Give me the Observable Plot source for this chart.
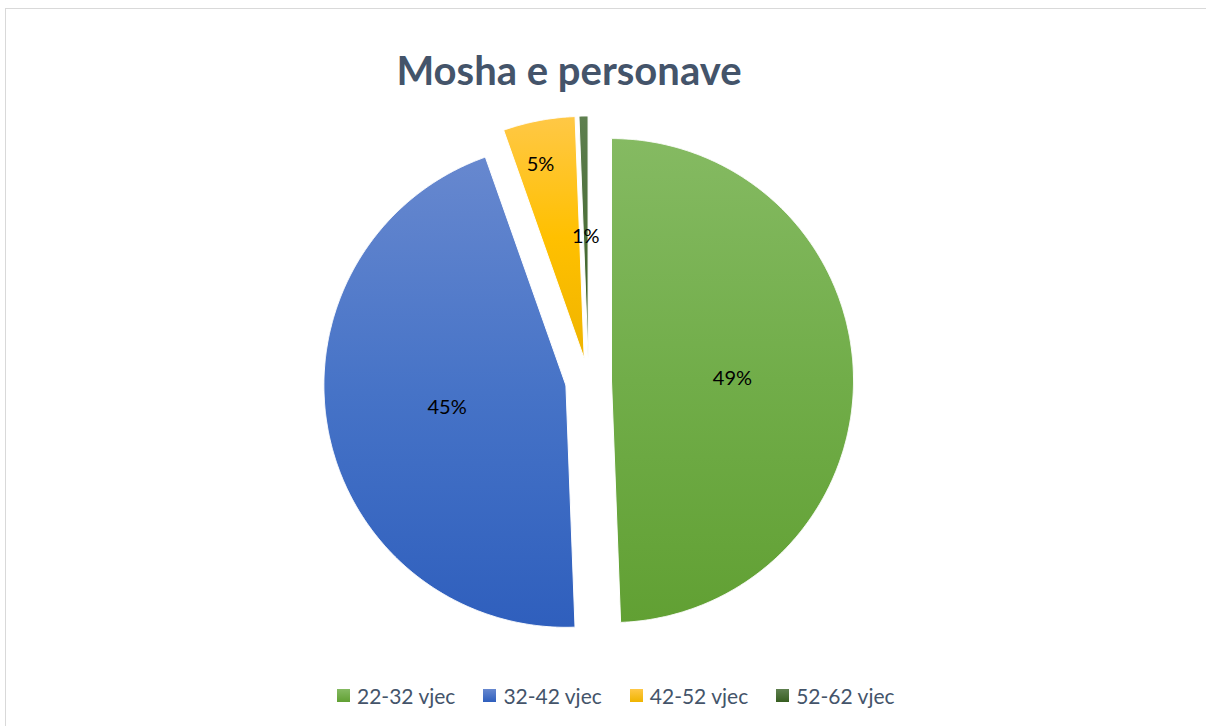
<!DOCTYPE html>
<html><head><meta charset="utf-8">
<script src="https://cdn.jsdelivr.net/npm/d3@7"></script>
<script src="https://cdn.jsdelivr.net/npm/@observablehq/plot@0.6"></script>
<style>
body{margin:0;background:#fff;font-family:Lato,sans-serif;width:1206px;height:726px;overflow:hidden;position:relative}
#frame{position:absolute;left:5px;top:8px;width:1400px;height:900px;border:1px solid #d9d9d9;pointer-events:none}
#title{width:1138px;height:110px;box-sizing:border-box;padding-top:46px;line-height:1.2;font-size:40px;font-weight:700;color:#44546a;text-align:center;margin:0;white-space:nowrap}
#chart svg{display:block}
#legend{display:flex;padding-left:337px;padding-top:23px;gap:28px;font-size:21px;color:#44546a;line-height:25px;white-space:nowrap}
.item{display:flex;align-items:center}
.sw{width:13px;height:13px;margin-right:7px}
</style></head><body>
<div id="frame"></div>
<div id="title">Mosha e personave</div>
<div id="chart"></div>
<div id="legend"></div>
<script>
// ---- data ----
const categories = ["22-32 vjec", "32-42 vjec", "42-52 vjec", "52-62 vjec"];
const values = [49.4, 45.2, 4.8, 0.6];
const gradientStops = [
  ["#85ba62", "#71ad49", "#61a033"],
  ["#6788cf", "#4673c7", "#2f5fbd"],
  ["#ffc846", "#ffc000", "#efb400"],
  ["#5f8050", "#4a6e38", "#375e20"]
];

// ---- layout ----
const W = 1206, H = 550, R = 242, CX = 588, CY = 270.5;
const EXPLODE = 23 / R;

const rows = categories.map((c, i) => ({category: c, value: values[i], i}));
const total = d3.sum(values);
const arcs = d3.pie().sort(null).value(d => d.value)(rows);

const polys = arcs.map(a => {
  const mid = (a.startAngle + a.endAngle) / 2;
  const ox = EXPLODE * Math.sin(mid), oy = EXPLODE * Math.cos(mid);
  const pts = [{x: ox, y: oy}];
  const n = Math.max(2, Math.ceil((a.endAngle - a.startAngle) / 0.004));
  for (let k = 0; k <= n; ++k) {
    const t = a.startAngle + (a.endAngle - a.startAngle) * k / n;
    pts.push({x: ox + Math.sin(t), y: oy + Math.cos(t)});
  }
  pts.push({x: ox, y: oy});
  return pts;
});

const labels = arcs.map(a => {
  const span = a.endAngle - a.startAngle;
  const frac = a.data.value / total;
  const small = span < 0.4 && frac >= 0.02;
  const mid = (a.startAngle + a.endAngle) / 2 - (small ? 0.03 : 0);
  const rr = EXPLODE + (small ? 0.82 : 0.5);
  return {x: rr * Math.sin(mid), y: rr * Math.cos(mid), text: Math.round(frac * 100) + "%"};
});

const chart = Plot.plot({
  width: W, height: H, margin: 0,
  style: {fontFamily: "Lato, sans-serif", background: "transparent"},
  x: {domain: [-CX / R, (W - CX) / R], axis: null},
  y: {domain: [-(H - CY) / R, CY / R], axis: null},
  marks: [
    ...polys.map((p, i) => Plot.line(p, {x: "x", y: "y", fill: `url(#grad${i})`, stroke: "white", strokeWidth: 1, curve: "linear"})),
    Plot.text(labels, {x: "x", y: "y", text: "text", fontSize: 20, fill: "#000"})
  ]
});

const svg = d3.select(chart);
const defs = svg.insert("defs", ":first-child");
gradientStops.forEach((s, i) => {
  const g = defs.append("linearGradient").attr("id", `grad${i}`)
    .attr("x1", 0).attr("y1", 0).attr("x2", 0).attr("y2", 1);
  s.forEach((c, k) => g.append("stop").attr("offset", k / (s.length - 1)).attr("stop-color", c));
});
document.getElementById("chart").appendChild(chart);

const legend = d3.select("#legend");
categories.forEach((c, i) => {
  const it = legend.append("div").attr("class", "item");
  it.append("div").attr("class", "sw")
    .style("background", `linear-gradient(${gradientStops[i][0]}, ${gradientStops[i][2]})`);
  it.append("span").text(c);
});
</script>
</body></html>
